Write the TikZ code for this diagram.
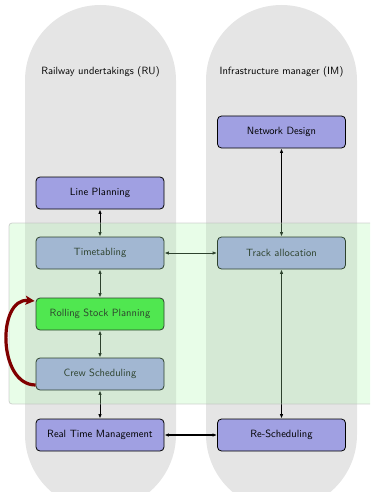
\documentclass[tikz,border=0pt]{standalone}
\usetikzlibrary{arrows.meta}
\definecolor{colgray}{HTML}{E5E5E5}
\definecolor{boxblue}{HTML}{A0A0E2}
\definecolor{boxgreen}{RGB}{47,226,47}
\definecolor{overlaygreen}{RGB}{170,247,170}
\definecolor{darkred}{HTML}{800000}
\begin{document}
\begin{tikzpicture}[x=1pt,y=-1pt,
  column/.style={fill=colgray,draw=none,rounded corners=75.5pt},
  taskbox/.style={draw=black,line width=0.8pt,rounded corners=4pt,fill=boxblue,
    minimum width=128pt,minimum height=32pt,inner sep=0pt,
    font=\fontsize{10.5}{12}\selectfont\sffamily},
  lbl/.style={font=\fontsize{10.5}{12}\selectfont\sffamily},
  link/.style={line width=0.9pt,{Latex[length=4.5pt,width=3.5pt]}-{Latex[length=4.5pt,width=3.5pt]}},
  loop/.style={darkred,line width=3.2pt,-{Stealth[length=9pt,width=9pt,inset=2pt]}}]
\useasboundingbox (0,0) rectangle (370,492);
\clip (0,0) rectangle (370,492);
% columns
\fill[column] (25,5) rectangle (176,510);
\fill[column] (206,5) rectangle (357,510);
\node[lbl] (ru) at (100.5,72) {Railway undertakings (RU)};
\node[lbl] (im) at (281.5,72) {Infrastructure manager (IM)};
% boxes
\node[taskbox] (nd) at (281.5,132) {Network Design};
\node[taskbox] (lp) at (100,193) {Line Planning};
\node[taskbox] (tt) at (100,253) {Timetabling};
\node[taskbox] (ta) at (281.5,253) {Track allocation};
\node[taskbox,fill=boxgreen] (rs) at (100,314) {Rolling Stock Planning};
\node[taskbox] (cs) at (100,374) {Crew Scheduling};
\node[taskbox] (rt) at (100,435) {Real Time Management};
\node[taskbox] (re) at (281.5,435) {Re-Scheduling};
% links
\draw[link] (lp) -- (tt);
\draw[link] (tt) -- (rs);
\draw[link] (rs) -- (cs);
\draw[link] (cs) -- (rt);
\draw[link] (nd) -- (ta);
\draw[link] (ta) -- (re);
\draw[link] (tt) -- (ta);
\draw[link,line width=1.4pt] (rt) -- (re);
% overlay region
\fill[overlaygreen,fill opacity=0.27,draw=black!25,draw opacity=0.7,line width=0.8pt,rounded corners=3pt]
  (9,223) rectangle (390,404);
% loop arrow
\coordinate (ls) at ([yshift=-11pt]cs.west);
\coordinate (le) at ([xshift=-1pt,yshift=13pt]rs.west);
\draw[loop] (ls) to[out=180,in=175,looseness=1.15] (le);
\end{tikzpicture}
\end{document}
